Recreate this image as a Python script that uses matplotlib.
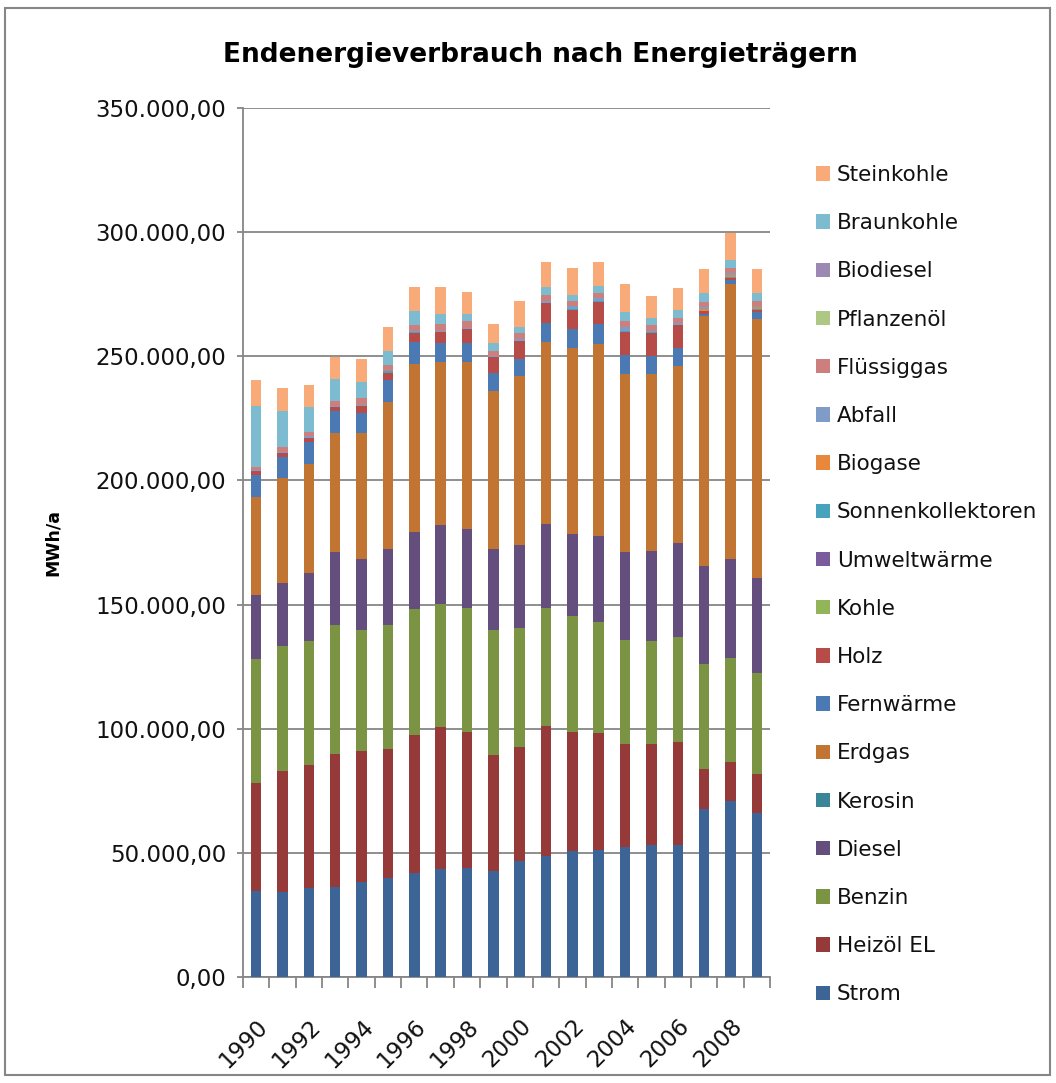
import matplotlib
matplotlib.use("Agg")
import matplotlib.pyplot as plt
from matplotlib.patches import Patch, Rectangle
from matplotlib.ticker import FuncFormatter, FixedLocator
import numpy as np

plt.rcParams['font.family'] = ['DejaVu Sans']

years = list(range(1990, 2010))
tick_years = [str(y) if y % 2 == 0 else "" for y in years]

# values in MWh/a (stack order bottom -> top)
strom = [34700, 34400, 36000, 36300, 38400, 40000, 41700, 43300, 44100, 42500,
         46800, 48900, 50800, 51300, 52400, 53000, 53000, 67700, 71000, 65900]
heizoel = [43500, 48700, 49500, 53700, 52700, 51900, 55900, 57200, 54700, 47000,
           45900, 52300, 48000, 47100, 41600, 41000, 41800, 16200, 15700, 16000]
benzin = [50000, 50400, 50000, 51900, 48800, 50000, 50800, 49900, 50000, 50400,
          48000, 47600, 46400, 44700, 41900, 41500, 42300, 42300, 41900, 40700]
diesel = [25800, 25000, 27400, 29100, 28600, 30300, 31000, 31500, 31800, 32300,
          33100, 33500, 33400, 34700, 35100, 35900, 37900, 39500, 39900, 38300]
kerosin = [0] * 20
erdgas = [39500, 42300, 43600, 48000, 50500, 59300, 67400, 65700, 67000, 63700,
          68100, 73300, 74600, 77000, 71700, 71300, 71000, 100400, 110500, 104000]
fernwaerme = [8600, 8500, 8800, 8800, 8300, 8800, 8800, 7600, 7600, 7200,
              6900, 7700, 7700, 8100, 7700, 7300, 7200, 800, 1600, 2800]
holz = [1700, 1700, 1900, 1600, 2500, 2800, 3700, 4500, 5700, 6500,
        7200, 8100, 7600, 8900, 9300, 9300, 9300, 1200, 900, 800]
kohle = [0] * 20
umweltwaerme = [0] * 20
sonnenkollektoren = [0, 0, 0, 0, 0, 800, 300, 0, 0, 0,
                     0, 0, 500, 500, 500, 300, 300, 300, 400, 400]
biogase = [0, 0, 0, 0, 0, 0, 0, 0, 0, 0,
           0, 0, 0, 0, 0, 0, 0, 800, 800, 900]
abfall = [400, 400, 500, 400, 600, 300, 500, 600, 600, 600,
          900, 800, 1200, 1100, 1500, 500, 500, 600, 800, 400]
fluessiggas = [1400, 1900, 1700, 2100, 2700, 2200, 2400, 2600, 2600, 1800,
               2400, 2400, 2000, 2000, 2400, 2400, 2000, 2000, 2000, 2000]
pflanzenoel = [0] * 20
biodiesel = [0] * 20
braunkohle = [24200, 14500, 10000, 8800, 6400, 5600, 5600, 4000, 2800, 3200,
              2400, 3200, 2400, 2800, 3600, 2800, 3200, 3600, 3200, 3200]
steinkohle = [10500, 9300, 8900, 8900, 9300, 9700, 9700, 10900, 8900, 7700,
              10500, 10100, 10900, 9700, 11300, 8900, 8900, 9700, 11000, 9700]

names = ["Strom", "Heizöl EL", "Benzin", "Diesel", "Kerosin", "Erdgas",
         "Fernwärme", "Holz", "Kohle", "Umweltwärme", "Sonnenkollektoren",
         "Biogase", "Abfall", "Flüssiggas", "Pflanzenöl", "Biodiesel",
         "Braunkohle", "Steinkohle"]
data = [strom, heizoel, benzin, diesel, kerosin, erdgas, fernwaerme, holz,
        kohle, umweltwaerme, sonnenkollektoren, biogase, abfall, fluessiggas,
        pflanzenoel, biodiesel, braunkohle, steinkohle]
colors = ["#3C6496", "#963A39", "#7A9444", "#634E7E", "#3A8696", "#C27533",
          "#4A79B3", "#B64B48", "#93B55A", "#7A5C9C", "#47A3BC", "#E8883C",
          "#7F9CC9", "#CD7F7E", "#AFC784", "#9B89B4", "#7DBBD0", "#F8AB78"]

W, H = 1056, 1083
fig = plt.figure(figsize=(W / 100, H / 100), dpi=100)
ax = fig.add_axes([243 / W, (H - 977) / H, 527 / W, 869 / H])

x = np.arange(len(years))
bottom = np.zeros(len(years))
handles = []
for name, vals, col in zip(names, data, colors):
    v = np.array(vals, dtype=float)
    ax.bar(x, v, 0.4, bottom=bottom, color=col, linewidth=0, zorder=3)
    bottom += v
    handles.append(Patch(facecolor=col, edgecolor='none', label=name))

grid_col = "#868686"
ax.set_xlim(-0.5, len(years) - 0.5)
ax.set_ylim(0, 350000)
ax.yaxis.set_major_locator(FixedLocator(np.arange(0, 350001, 50000)))


def de_fmt(v, pos):
    s = f"{v:,.2f}"
    return s.replace(",", "X").replace(".", ",").replace("X", ".")


ax.yaxis.set_major_formatter(FuncFormatter(de_fmt))
ax.grid(axis='y', color=grid_col, linewidth=1.3, zorder=0)
for s in ['top', 'right']:
    ax.spines[s].set_visible(False)
for s in ['left', 'bottom']:
    ax.spines[s].set_color(grid_col)
    ax.spines[s].set_linewidth(1.3)
ax.tick_params(axis='y', length=4, color=grid_col, width=1.3,
               labelsize=16.5, labelcolor='#111111', pad=8)

ax.set_xticks(x)
ax.set_xticklabels(tick_years, rotation=45, ha='right', va='top',
                   rotation_mode='anchor', fontsize=16.5, color='#111111')
ax.tick_params(axis='x', which='major', length=0, pad=27)
ax.set_xticks(np.arange(-0.5, len(years)), minor=True)
ax.tick_params(axis='x', which='minor', length=8, color=grid_col, width=1.3)

ax.set_ylabel("MWh/a", fontsize=12.5, fontweight='bold')
ax.yaxis.set_label_coords((62 - 243) / 527, 0.5)

fig.text(540 / W, 1 - 55 / H, "Endenergieverbrauch nach Energieträgern",
         ha='center', va='center', fontsize=19, fontweight='bold')

leg = fig.legend(handles=handles[::-1], loc='upper left',
                 bbox_to_anchor=(816 / W, 1 - 165 / H), frameon=False,
                 fontsize=15.5, handlelength=0.65, handleheight=0.65,
                 handletextpad=0.33, labelspacing=1.31, borderpad=0,
                 borderaxespad=0)
for t in leg.get_texts():
    t.set_color('#111111')

fig.patches.append(Rectangle((5 / W, 8 / H), 1045 / W, 1067 / H,
                             transform=fig.transFigure, fill=False,
                             edgecolor=grid_col, linewidth=1.5))

fig.savefig("out.png", dpi=100)
